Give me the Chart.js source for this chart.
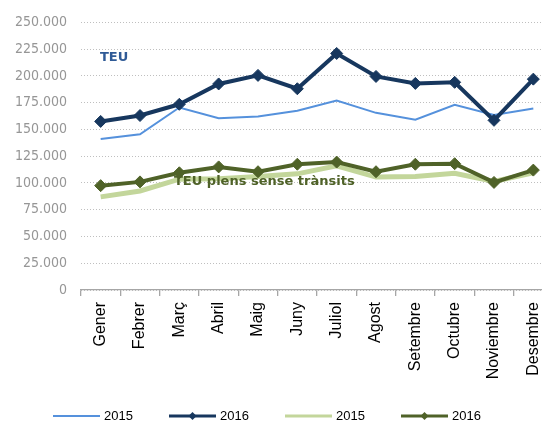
<!DOCTYPE html>
<html>
<head>
<meta charset="utf-8">
<script src="https://cdn.jsdelivr.net/npm/chart.js@4"></script>
<style>
  html, body { margin: 0; padding: 0; background: #fff; overflow: hidden; }
  #wrap { width: 560px; height: 425px; }
</style>
</head>
<body>
<div id="wrap"><canvas id="teuChart" width="560" height="425"></canvas></div>
<script>
// --- dades ---
const months = ['Gener', 'Febrer', 'Març', 'Abril', 'Maig', 'Juny', 'Juliol', 'Agost', 'Setembre', 'Octubre', 'Noviembre', 'Desembre'];
const teu2015 = [141000, 145500, 170500, 160500, 162000, 167500, 177000, 165500, 159000, 173000, 163500, 169500];
const teu2016 = [157500, 163000, 173500, 192500, 200500, 188000, 221000, 199500, 193000, 194000, 158500, 197000];
const plens2015 = [87000, 92500, 103500, 104000, 106000, 108500, 116000, 105500, 106000, 109000, 101500, 109500];
const plens2016 = [97500, 101000, 109500, 115000, 110500, 117500, 119500, 110500, 117500, 118000, 100500, 112000];
const yTicks = [0, 25000, 50000, 75000, 100000, 125000, 150000, 175000, 200000, 225000, 250000];

const fmt = v => v === 0 ? '0' : String(v).replace(/\B(?=(\d{3})+(?!\d))/g, '.');

// textos sobre el grafic + llegenda propia
const extras = {
    id: 'extras',
    afterDatasetsDraw(chart) {
        const c = chart.ctx;
        c.save();
        c.textBaseline = 'middle';
        c.textAlign = 'left';
        c.font = 'bold 13px "DejaVu Sans"';
        c.fillStyle = '#2f5a96';
        c.fillText('TEU', 100, 58);
        c.fillStyle = '#4f6228';
        c.fillText('TEU plens sense trànsits', 174, 182);
        c.restore();
    },
    afterDraw(chart) {
        const c = chart.ctx;
        const y = 416;
        c.save();
        c.font = '13px "Liberation Sans"';
        c.textBaseline = 'middle';
        chart.data.datasets.forEach((ds, i) => {
            const x0 = 53 + i * 116;
            c.strokeStyle = ds.borderColor;
            c.lineWidth = ds.legendWidth;
            c.beginPath();
            c.moveTo(x0, y);
            c.lineTo(x0 + 47, y);
            c.stroke();
            if (ds.pointRadius > 0) {
                const mx = x0 + 23.5, r = 4;
                c.fillStyle = ds.borderColor;
                c.beginPath();
                c.moveTo(mx - r, y); c.lineTo(mx, y - r); c.lineTo(mx + r, y); c.lineTo(mx, y + r);
                c.closePath();
                c.fill();
            }
            c.fillStyle = '#000';
            c.fillText(ds.label, x0 + 51, y);
        });
        c.restore();
    }
};

const ctx = document.getElementById('teuChart').getContext('2d');

new Chart(ctx, {
    type: 'line',
    data: {
        labels: months,
        datasets: [{
            label: '2015',
            data: teu2015,
            borderColor: '#5591dc',
            borderWidth: 2,
            pointRadius: 0,
            legendWidth: 2,
            order: 3
        }, {
            label: '2016',
            data: teu2016,
            borderColor: '#17375e',
            backgroundColor: '#17375e',
            borderWidth: 4,
            pointStyle: 'rectRot',
            pointRadius: 6,
            pointBorderWidth: 1,
            legendWidth: 3,
            order: 1
        }, {
            label: '2015',
            data: plens2015,
            borderColor: '#c3d69b',
            borderWidth: 5,
            pointRadius: 0,
            legendWidth: 3,
            order: 4
        }, {
            label: '2016',
            data: plens2016,
            borderColor: '#4f6228',
            backgroundColor: '#4f6228',
            borderWidth: 4,
            pointStyle: 'rectRot',
            pointRadius: 6,
            pointBorderWidth: 1,
            legendWidth: 3,
            order: 2
        }]
    },
    options: {
        responsive: false,
        animation: false,
        devicePixelRatio: 1,
        layout: { padding: { top: 12, right: 7, bottom: 35, left: 0 } },
        elements: { line: { tension: 0 } },
        scales: {
            y: {
                min: 0,
                max: 250000,
                afterFit: s => { s.width = 81; },
                afterBuildTicks: s => { s.ticks = yTicks.map(v => ({ value: v })); },
                ticks: {
                    padding: 14,
                    color: '#969696',
                    font: { family: '"DejaVu Sans Condensed", "DejaVu Sans"', size: 14 },
                    callback: v => fmt(v)
                },
                grid: {
                    color: '#bfbfbf',
                    drawTicks: false
                },
                border: { display: false, dash: [1, 2] }
            },
            x: {
                offset: true,
                afterFit: s => { s.height = 100; },
                ticks: {
                    minRotation: 90,
                    maxRotation: 90,
                    autoSkip: false,
                    padding: 6,
                    color: '#000',
                    font: { family: '"Liberation Sans"', size: 16 }
                },
                grid: {
                    offset: true,
                    drawOnChartArea: false,
                    drawTicks: true,
                    tickLength: 6,
                    color: '#a6a6a6',
                    lineWidth: 1.3
                },
                border: { display: true, color: '#a6a6a6', width: 1.3 }
            }
        },
        plugins: {
            legend: { display: false },
            tooltip: { enabled: false }
        }
    },
    plugins: [extras]
});
</script>
</body>
</html>
